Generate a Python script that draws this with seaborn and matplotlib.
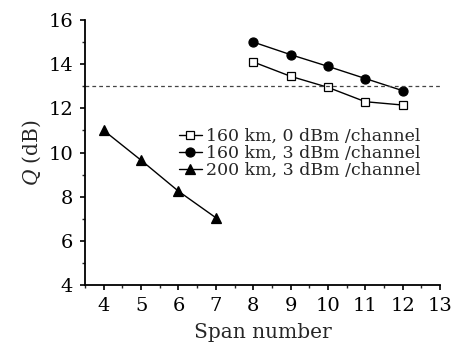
import pandas as pd
import seaborn as sns
import matplotlib.pyplot as plt
from matplotlib.ticker import MultipleLocator

# data
span_160 = [8, 9, 10, 11, 12]
q_160_0dbm = [14.1, 13.45, 12.95, 12.3, 12.15]
q_160_3dbm = [15.0, 14.43, 13.9, 13.35, 12.8]
span_200 = [4, 5, 6, 7]
q_200_3dbm = [11.0, 9.65, 8.25, 7.05]
labels = ["160 km, 0 dBm /channel", "160 km, 3 dBm /channel", "200 km, 3 dBm /channel"]
q_limit = 13

sns.set_theme(style="ticks")
plt.rcParams["font.family"] = ["DejaVu Serif"]
plt.rcParams["mathtext.fontset"] = "custom"
plt.rcParams["mathtext.it"] = "DejaVu Serif:italic"
plt.rcParams["mathtext.rm"] = "DejaVu Serif"

df = pd.concat([
    pd.DataFrame({"span": span_160, "q": q_160_0dbm, "series": labels[0]}),
    pd.DataFrame({"span": span_160, "q": q_160_3dbm, "series": labels[1]}),
    pd.DataFrame({"span": span_200, "q": q_200_3dbm, "series": labels[2]}),
])

fig = plt.figure(figsize=(4.55, 3.56), dpi=100)
ax = fig.add_axes([0.187, 0.199, 0.78, 0.745])

styles = {
    labels[0]: dict(marker="s", markerfacecolor="white", markeredgecolor="black", markersize=6),
    labels[1]: dict(marker="o", markerfacecolor="black", markeredgecolor="black", markersize=6.5),
    labels[2]: dict(marker="^", markerfacecolor="black", markeredgecolor="black", markersize=7),
}
for name in labels:
    sub = df[df["series"] == name]
    sns.lineplot(data=sub, x="span", y="q", ax=ax, color="black", linewidth=1,
                 label=name, markeredgewidth=0.9, **styles[name])

ax.axhline(q_limit, color="#444444", linestyle=(0, (3, 2.5)), linewidth=0.9)

ax.set_xlim(3.5, 13)
ax.set_ylim(4, 16)
ax.xaxis.set_major_locator(MultipleLocator(1))
ax.xaxis.set_minor_locator(MultipleLocator(0.5))
ax.yaxis.set_major_locator(MultipleLocator(2))
ax.yaxis.set_minor_locator(MultipleLocator(1))
ax.set_xticks(range(4, 14))
ax.tick_params(which="major", direction="out", length=3.5, width=1.2, labelsize=14,
               colors="black", pad=5)
ax.tick_params(which="minor", direction="out", length=2.5, width=1)
sns.despine(ax=ax)
for s in ["left", "bottom"]:
    ax.spines[s].set_linewidth(1.3)
    ax.spines[s].set_color("black")

ax.set_xlabel("Span number", fontsize=14.5, labelpad=6)
ax.set_ylabel(r"$Q$ (dB)", fontsize=14.5)

ax.legend(loc="upper left", bbox_to_anchor=(0.245, 0.62), frameon=False, fontsize=12.5,
          handlelength=1.3, handletextpad=0.25, labelspacing=0.0, borderaxespad=0)

fig.savefig("out.png", dpi=100)
